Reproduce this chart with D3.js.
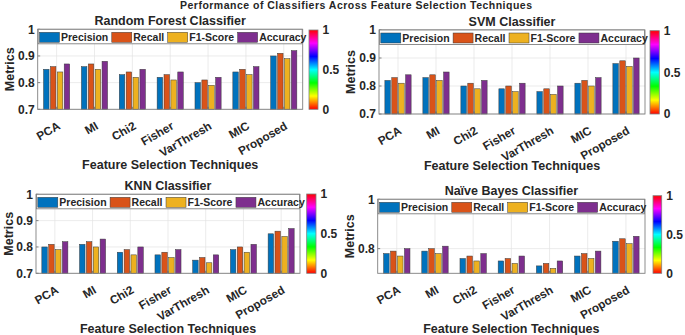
<!DOCTYPE html>
<html>
<head>
<meta charset="utf-8">
<script src="https://cdn.jsdelivr.net/npm/d3@7"></script>
<style>
  body { margin: 0; background: #fff; }
  text { font-family: "Liberation Sans", Arial, sans-serif; font-weight: bold; fill: #262626; }
</style>
</head>
<body>
<div id="chart"></div>
<script>
// Data
var techniques = ["PCA", "MI", "Chi2", "Fisher", "VarThresh", "MIC", "Proposed"];
var metrics    = ["Precision", "Recall", "F1-Score", "Accuracy"];

// rows = techniques, columns = Precision, Recall, F1-Score, Accuracy
var rf_values  = [[0.85,0.86,0.84,0.87],[0.86,0.87,0.85,0.88],[0.83,0.84,0.82,0.85],[0.82,0.83,0.81,0.84],[0.80,0.81,0.79,0.82],[0.84,0.85,0.83,0.86],[0.90,0.91,0.89,0.92]];
var svm_values = [[0.82,0.83,0.81,0.84],[0.83,0.84,0.82,0.85],[0.80,0.81,0.79,0.82],[0.79,0.80,0.78,0.81],[0.78,0.79,0.77,0.80],[0.81,0.82,0.80,0.83],[0.88,0.89,0.87,0.90]];
var knn_values = [[0.80,0.81,0.79,0.82],[0.81,0.82,0.80,0.83],[0.78,0.79,0.77,0.80],[0.77,0.78,0.76,0.79],[0.75,0.76,0.74,0.77],[0.79,0.80,0.78,0.81],[0.85,0.86,0.84,0.87]];
var nb_values  = [[0.78,0.79,0.77,0.80],[0.79,0.80,0.78,0.81],[0.76,0.77,0.75,0.78],[0.75,0.76,0.74,0.77],[0.73,0.74,0.72,0.75],[0.77,0.78,0.76,0.79],[0.83,0.84,0.82,0.85]];

var y_ticks_full  = [0.7, 0.8, 0.9, 1];
var y_ticks_nb    = [0.8, 1];
var cbar_ticks    = [0, 0.5, 1];

var main_title = "Performance of Classifiers Across Feature Selection Techniques";
var x_label = "Feature Selection Techniques";
var y_label = "Metrics";

var color = d3.scaleOrdinal().domain(metrics).range(["#0072BD", "#D95319", "#EDB120", "#7E2F8E"]);

// Panels (layout)
var panels = [
  { title: "Random Forest Classifier", values: rf_values, ticks: y_ticks_full,
    l: 37.7, t: 29.3, r: 302.7, b: 109.3, cb: [309, 318, 30, 109.3], ty: 20, xy: 164, yx: 9 },
  { title: "SVM Classifier", values: svm_values, ticks: y_ticks_full,
    l: 379, t: 30, r: 645, b: 114, cb: [650, 659.3, 30.7, 114], ty: 21.7, xy: 165.5, yx: 350 },
  { title: "KNN Classifier", values: knn_values, ticks: y_ticks_full,
    l: 36, t: 194.3, r: 300, b: 273.3, cb: [306.7, 316, 194, 273.3], ty: 185.7, xy: 328.3, yx: 8 },
  { title: "Na\u00efve Bayes Classifier", values: nb_values, ticks: y_ticks_nb,
    l: 377.7, t: 199.3, r: 645, b: 273.3, cb: [653, 661.7, 195.7, 273.3], ty: 190, xy: 328.3, yx: 349.7 }
];

var svg = d3.select("#chart")
  .append("svg")
  .attr("width", 685)
  .attr("height", 335);

// hsv colormap gradient
var grad = svg.append("defs").append("linearGradient")
  .attr("id", "hsv")
  .attr("x1", 0).attr("y1", 1).attr("x2", 0).attr("y2", 0);
grad.selectAll("stop")
  .data(d3.range(0, 1.0001, 1 / 24))
  .enter()
  .append("stop")
  .attr("offset", d => d)
  .attr("stop-color", d => d3.hsl(d * 360, 1, 0.5).formatHex());

svg.append("text")
  .attr("x", 356).attr("y", 5)
  .attr("dy", "0.36em")
  .attr("textLength", 352)
  .attr("lengthAdjust", "spacing")
  .style("text-anchor", "middle")
  .style("font-size", "10.5px")
  .text(main_title);

panels.forEach(function(p) {
  var w = p.r - p.l, h = p.b - p.t;
  var g = svg.append("g").attr("transform", "translate(" + p.l + "," + p.t + ")");

  var x0 = d3.scaleBand().domain(techniques).range([0, w]);
  var gw = x0.bandwidth() * 0.727;
  var x1 = d3.scaleBand().domain(metrics)
    .range([(x0.bandwidth() - gw) / 2, (x0.bandwidth() + gw) / 2])
    .paddingInner(0.2).paddingOuter(0.1);
  var y = d3.scaleLinear().domain([0.7, 1]).range([h, 0]);

  // grid
  g.selectAll(".hgrid").data(p.ticks).enter().append("line")
    .attr("x1", 0).attr("x2", w)
    .attr("y1", d => y(d)).attr("y2", d => y(d))
    .style("stroke", "#e3e3e3").style("stroke-width", 0.7);
  g.selectAll(".vgrid").data(techniques).enter().append("line")
    .attr("x1", d => x0(d) + x0.bandwidth() / 2).attr("x2", d => x0(d) + x0.bandwidth() / 2)
    .attr("y1", 0).attr("y2", h)
    .style("stroke", "#e3e3e3").style("stroke-width", 0.7);

  // bars
  var groups = g.selectAll(".grp")
    .data(p.values)
    .enter()
    .append("g")
    .attr("transform", (d, i) => "translate(" + x0(techniques[i]) + ",0)");

  groups.selectAll("rect")
    .data(d => d.map((v, j) => ({ key: metrics[j], value: v })))
    .enter()
    .append("rect")
    .attr("x", d => x1(d.key))
    .attr("y", d => y(d.value))
    .attr("width", x1.bandwidth())
    .attr("height", d => h - y(d.value))
    .style("fill", d => color(d.key))
    .style("stroke", "#3a3a3a")
    .style("stroke-width", 0.5);

  // ticks (inward)
  g.selectAll(".yt").data(p.ticks).enter().append("line")
    .attr("x1", 0).attr("x2", 2.5)
    .attr("y1", d => y(d)).attr("y2", d => y(d))
    .style("stroke", "#555").style("stroke-width", 0.7);
  g.selectAll(".xt").data(techniques).enter().append("line")
    .attr("x1", d => x0(d) + x0.bandwidth() / 2).attr("x2", d => x0(d) + x0.bandwidth() / 2)
    .attr("y1", h).attr("y2", h - 2.5)
    .style("stroke", "#555").style("stroke-width", 0.7);

  // frame
  g.append("rect")
    .attr("width", w).attr("height", h)
    .style("fill", "none").style("stroke", "#808080").style("stroke-width", 0.9);

  // y tick labels
  g.selectAll(".ytl").data(p.ticks).enter().append("text")
    .attr("x", -3).attr("y", d => y(d))
    .attr("dy", "0.36em")
    .style("text-anchor", "end")
    .style("font-size", "12px")
    .text(d => d3.format("~g")(d));

  // x tick labels
  g.selectAll(".xtl").data(techniques).enter().append("text")
    .attr("transform", d => "translate(" + (x0(d) + x0.bandwidth() / 2 + 4.5) + "," + (h + 19) + ") rotate(-30)")
    .style("text-anchor", "end")
    .style("font-size", "11.8px")
    .text(d => d);

  // titles
  svg.append("text")
    .attr("x", p.l + w / 2).attr("y", p.ty)
    .attr("dy", "0.36em")
    .style("text-anchor", "middle")
    .style("font-size", "12.5px")
    .text(p.title);
  svg.append("text")
    .attr("x", p.l + w / 2).attr("y", p.xy)
    .attr("dy", "0.36em")
    .style("text-anchor", "middle")
    .style("font-size", "12.5px")
    .text(x_label);
  svg.append("text")
    .attr("transform", "translate(" + p.yx + "," + (p.t + h / 2) + ") rotate(-90)")
    .attr("dy", "0.36em")
    .style("text-anchor", "middle")
    .style("font-size", "12.5px")
    .text(y_label);

  // legend
  var lg = g.append("g");
  lg.append("rect")
    .attr("x", 0.5).attr("y", 0).attr("width", w - 1).attr("height", 14.5)
    .style("fill", "#fff").style("stroke", "#808080").style("stroke-width", 0.9);
  var lx = 1.8;
  metrics.forEach(function(m) {
    lg.append("rect")
      .attr("x", lx).attr("y", 3).attr("width", 20).attr("height", 10)
      .style("fill", color(m)).style("stroke", "#3a3a3a").style("stroke-width", 0.5);
    var t = lg.append("text")
      .attr("x", lx + 21.5).attr("y", 8.3)
      .attr("dy", "0.36em")
      .style("font-size", "10.5px")
      .text(m);
    lx += 21.5 + t.node().getComputedTextLength() + 3.5;
  });

  // colorbar
  var cb = p.cb;
  var cy = d3.scaleLinear().domain([0, 1]).range([cb[3], cb[2]]);
  svg.append("rect")
    .attr("x", cb[0]).attr("y", cb[2])
    .attr("width", cb[1] - cb[0]).attr("height", cb[3] - cb[2])
    .style("fill", "url(#hsv)").style("stroke", "#808080").style("stroke-width", 0.8);
  svg.selectAll(null).data(cbar_ticks).enter().append("text")
    .attr("x", cb[1] + 4.5).attr("y", d => cy(d))
    .attr("dy", "0.36em")
    .style("font-size", "12px")
    .text(d => d3.format("~g")(d));
});
</script>
</body>
</html>
